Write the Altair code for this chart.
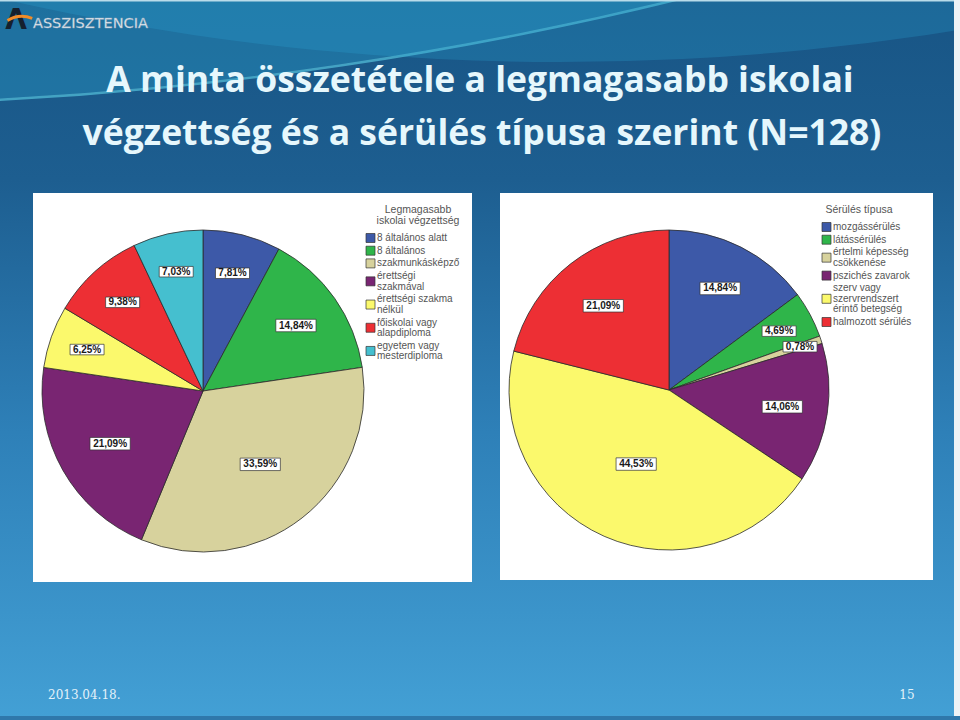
import altair as alt
import pandas as pd

# ---- data ----
edu_cats = ["8 általános alatt", "8 általános", "szakmunkásképző",
            "érettségi|szakmával", "érettségi szakma|nélkül",
            "főiskolai vagy|alapdiploma", "egyetem vagy|mesterdiploma"]
edu_vals = [7.81, 14.84, 33.59, 21.09, 6.25, 9.38, 7.03]

inj_cats = ["mozgássérülés", "látássérülés", "értelmi képesség|csökkenése",
            "pszichés zavarok", "szerv vagy|szervrendszert|érintő betegség",
            "halmozott sérülés"]
inj_vals = [14.84, 4.69, 0.78, 14.06, 44.53, 21.09]

edu_colors = ["#3D59A8", "#2FB54A", "#D7D29D", "#792572", "#FBF96C", "#ED2F34", "#45BFCF"]
inj_colors = ["#3D59A8", "#2FB54A", "#D7D29D", "#792572", "#FBF96C", "#ED2F34"]

title_lines = ["A minta összetétele a legmagasabb iskolai",
               "végzettség és a sérülés típusa szerint (N=128)"]
edu_title = ["Legmagasabb", "iskolai végzettség"]
inj_title = ["Sérülés típusa"]
date_text = "2013.04.18."
page_text = "15"
logo_text = "ASSZISZTENCIA"

one = pd.DataFrame({"k": [0]})
BOX = "M-1,-0.31L1,-0.31L1,0.31L-1,0.31Z"
LEG_FONT = "Liberation Sans"
LEG_COLOR = "#555555"


def deco_rect(x1, x2, y1, y2, **kw):
    return alt.Chart(one).mark_rect(**kw).encode(
        x=alt.value(x1), x2=alt.value(x2), y=alt.value(y1), y2=alt.value(y2))


def deco_text(txt, x, y, **kw):
    return alt.Chart(pd.DataFrame({"t": [txt]})).mark_text(**kw).encode(
        x=alt.value(x), y=alt.value(y), text="t:N")


def pie(cats, vals, colors, cx, cy, r):
    df = pd.DataFrame({
        "cat": cats,
        "v": vals,
        "i": list(range(len(cats))),
        "lab": [f"{v:.2f}".replace(".", ",") + "%" for v in vals],
    })
    base = alt.Chart(df)
    arcs = base.mark_arc(radius=r, stroke="#2b2b2b", strokeWidth=0.8).encode(
        theta=alt.Theta("v:Q", stack=True),
        order=alt.Order("i:Q"),
        color=alt.Color("cat:N", scale=alt.Scale(domain=cats, range=colors), legend=None),
        x=alt.value(cx), y=alt.value(cy),
    )
    lbl = base.transform_window(
        cum="sum(v)", sort=[alt.SortField("i")], frame=[None, 0]
    ).transform_joinaggregate(tot="sum(v)").transform_calculate(
        a="2*PI*(datum.cum - datum.v/2)/datum.tot",
        rr="datum.v < 2 ? 138 : 130 - 1.1*datum.v",
        px=f"{cx} + datum.rr*sin(datum.a)",
        py=f"{cy} - datum.rr*cos(datum.a)",
        bs="pow(6.2*length(datum.lab) + 3, 2)",
    )
    pos = dict(x=alt.X("px:Q", scale=None, axis=None),
               y=alt.Y("py:Q", scale=None, axis=None))
    boxes = lbl.mark_point(shape=BOX, filled=True, fill="white",
                           stroke="#333333", strokeWidth=0.7, opacity=1).encode(
        size=alt.Size("bs:Q", scale=None, legend=None), **pos)
    texts = lbl.mark_text(font="Liberation Sans", fontSize=10, fontWeight="bold",
                          color="#1a1a1a").encode(text="lab:N", **pos)
    return [arcs, boxes, texts]


def legend(cats, colors, title, tcx, ty, sx, tx, y0, lh=10.5, gap=2.2):
    out = []
    for j, line in enumerate(title):
        out.append(deco_text(line, tcx, ty + lh * j, font=LEG_FONT, fontSize=10.5,
                             color=LEG_COLOR, align="center", baseline="middle"))
    df = pd.DataFrame({"cat": cats, "i": list(range(len(cats)))})
    base = alt.Chart(df).transform_calculate(
        n="length(split(datum.cat, '|'))"
    ).transform_window(
        cum="sum(n)", sort=[alt.SortField("i")], frame=[None, 0]
    ).transform_calculate(
        top=f"{y0} + {lh}*(datum.cum - datum.n) + {gap}*datum.i",
        sy=f"datum.top + {lh}*(datum.n - 1)/2",
    )
    sym = base.mark_point(shape="square", size=81, filled=True, stroke="#333333",
                          strokeWidth=0.7, opacity=1).encode(
        x=alt.value(sx), y=alt.Y("sy:Q", scale=None, axis=None),
        color=alt.Color("cat:N", scale=alt.Scale(domain=cats, range=colors), legend=None),
    )
    txt = base.transform_calculate(
        parts="split(datum.cat, '|')"
    ).transform_flatten(["parts"], as_=["part"]).transform_window(
        k="row_number()", groupby=["cat"]
    ).transform_calculate(
        ly=f"datum.top + {lh}*(datum.k - 1)"
    ).mark_text(align="left", baseline="middle", font=LEG_FONT, fontSize=10,
                color=LEG_COLOR).encode(
        x=alt.value(tx), y=alt.Y("ly:Q", scale=None, axis=None), text="part:N")
    return out + [sym, txt]


bg = alt.Chart(one).mark_rect(
    color=alt.Gradient(
        gradient="linear", x1=0, x2=0, y1=0, y2=1,
        stops=[alt.GradientStop(color="#185585", offset=0),
               alt.GradientStop(color="#1d5e90", offset=0.25),
               alt.GradientStop(color="#2e80b8", offset=0.6),
               alt.GradientStop(color="#43a0d5", offset=1)])
).encode(x=alt.value(0), x2=alt.value(960), y=alt.value(0), y2=alt.value(720))

disc1 = alt.Chart(one).mark_arc(
    radius=3693, theta=0, theta2=6.2832, color="#2aa3cf", opacity=0.35
).encode(x=alt.value(-200), y=alt.value(-3589))
ring1 = alt.Chart(one).mark_arc(
    radius=3693, radius2=3695.5, theta=0, theta2=6.2832, color="#5fd3ea", opacity=0.6
).encode(x=alt.value(-200), y=alt.value(-3589))
disc2 = alt.Chart(one).mark_arc(
    radius=2500, theta=0, theta2=6.2832, color="#2aa8d8", opacity=0.25
).encode(x=alt.value(560), y=alt.value(-2438))

logo_swoosh = alt.Chart(one).mark_arc(
    radius=30, radius2=27, theta=5.75, theta2=6.65, color="#f28c28"
).encode(x=alt.value(22), y=alt.value(45))

panel1 = deco_rect(33, 472, 193, 582, color="white")
panel2 = deco_rect(500, 933, 193, 580, color="white")
bottom_line = deco_rect(0, 960, 716, 720, color="#2f78ab")
right_edge = deco_rect(954, 960, 0, 720, color="#eef3f6")
top_line = deco_rect(0, 960, 0, 1.5, color="#b9dcea")

layers = [bg, disc1, ring1, disc2, top_line, right_edge, panel1, panel2, bottom_line]
layers += pie(edu_cats, edu_vals, edu_colors, 203, 391, 161)
layers += pie(inj_cats, inj_vals, inj_colors, 669, 390, 160)
layers += legend(edu_cats, edu_colors, edu_title, 418, 210, 370.5, 377, 238)
layers += legend(inj_cats, inj_colors, inj_title, 859, 210, 826.5, 833, 227)

layers += [
    deco_text(title_lines[0], 480, 92, font="Open Sans", fontSize=35.5, fontWeight="bold",
              color="#E6F7FC", align="center", baseline="alphabetic"),
    deco_text(title_lines[1], 482, 145, font="Open Sans", fontSize=35.5, fontWeight="bold",
              color="#E6F7FC", align="center", baseline="alphabetic"),
    deco_text(logo_text, 33, 28, font="DejaVu Sans", fontSize=14.5,
              color="#e8eef4", align="left", baseline="alphabetic", stroke="#8fa6ba",
              strokeWidth=0.4),
    deco_text("Λ", 16, 29, font="DejaVu Sans", fontSize=28, fontWeight="bold",
              color="#15202e", align="center", baseline="alphabetic"),
    logo_swoosh,
    deco_text(date_text, 48, 699, font="DejaVu Serif", fontSize=12,
              color="#e4f2fa", align="left", baseline="alphabetic"),
    deco_text(page_text, 907, 699, font="DejaVu Serif", fontSize=12,
              color="#e4f2fa", align="center", baseline="alphabetic"),
]

chart = alt.layer(*layers).resolve_scale(
    color="independent", theta="independent", size="independent"
).properties(
    width=960, height=720, padding=0,
    autosize=alt.AutoSizeParams(type="none"),
    background="#1e5f90",
).configure_view(stroke=None)

chart.save("out.html", embed_options={"renderer": "svg", "actions": False})
